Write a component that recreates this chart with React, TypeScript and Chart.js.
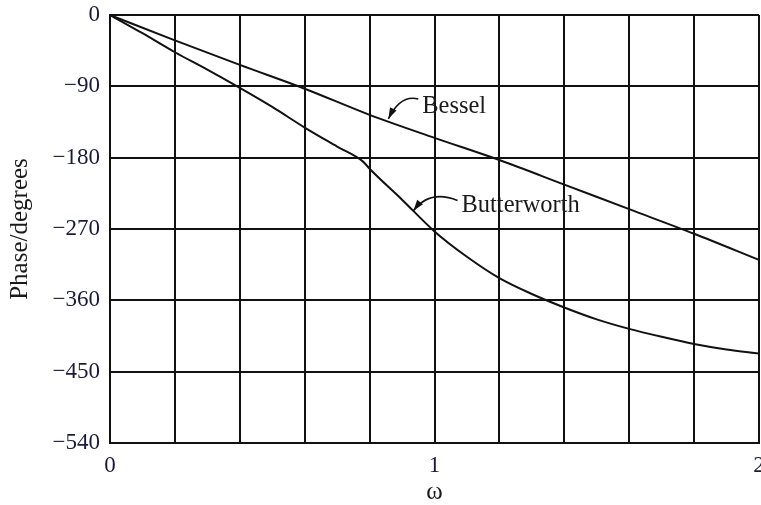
import { useEffect, useRef } from 'react';
import { Chart, registerables } from 'chart.js';

Chart.register(...registerables);

// ---- data ----
const besselX = [0, 0.2, 0.4, 0.6, 0.8, 1.0, 1.2, 1.4, 1.6, 1.8, 2.0];
const besselY = [0, -32, -63, -93, -126, -155, -183, -214, -245, -276, -309];

const butterX = [0, 0.1, 0.2, 0.3, 0.4, 0.5, 0.6, 0.7, 0.78, 0.8, 0.9, 1.0, 1.1, 1.2, 1.3, 1.4, 1.5, 1.6, 1.7, 1.8, 1.9, 2.0];
const butterY = [0, -23, -47, -69, -92, -116, -142, -166, -185, -194, -233, -273, -305, -332, -352, -369, -384, -396, -406, -415, -422, -427];

const xTickValues = [0, 1, 2];
const xTickLabels = ['0', '1', '2'];
const yTickValues = [0, -90, -180, -270, -360, -450, -540];
const yTickLabels = ['0', '\u221290', '\u2212180', '\u2212270', '\u2212360', '\u2212450', '\u2212540'];

const seriesNames = ['Bessel', 'Butterworth'];

// label anchors (data coordinates)
const labelAnchors = [
  { text: 'Bessel', x: 0.962, y: -123.6, tail: [0.950, -106], ctrl: [0.895, -100], tip: [0.858, -131] },
  { text: 'Butterworth', x: 1.083, y: -248.6, tail: [1.071, -234], ctrl: [0.985, -220], tip: [0.935, -247] },
];

const SERIF = "'Liberation Serif', 'Times New Roman', serif";

const labelPlugin = {
  id: 'curveLabels',
  afterDatasetsDraw(chart: any) {
    const { ctx, scales } = chart;
    const xs = scales.x;
    const ys = scales.y;
    ctx.save();
    for (const a of labelAnchors) {
      const tx = xs.getPixelForValue(a.x);
      const ty = ys.getPixelForValue(a.y);
      ctx.font = `24.5px ${SERIF}`;
      ctx.fillStyle = '#1a1a1a';
      ctx.textAlign = 'left';
      ctx.textBaseline = 'alphabetic';
      ctx.fillText(a.text, tx, ty);

      const p0 = [xs.getPixelForValue(a.tail[0]), ys.getPixelForValue(a.tail[1])];
      const pc = [xs.getPixelForValue(a.ctrl[0]), ys.getPixelForValue(a.ctrl[1])];
      const p1 = [xs.getPixelForValue(a.tip[0]), ys.getPixelForValue(a.tip[1])];
      ctx.strokeStyle = '#111';
      ctx.lineWidth = 1.6;
      ctx.beginPath();
      ctx.moveTo(p0[0], p0[1]);
      ctx.quadraticCurveTo(pc[0], pc[1], p1[0], p1[1]);
      ctx.stroke();
      let dx = p1[0] - pc[0];
      let dy = p1[1] - pc[1];
      const len = Math.hypot(dx, dy) || 1;
      dx /= len;
      dy /= len;
      const L = 11;
      const W = 3.6;
      const bx = p1[0] - dx * L;
      const by = p1[1] - dy * L;
      ctx.fillStyle = '#111';
      ctx.beginPath();
      ctx.moveTo(p1[0], p1[1]);
      ctx.lineTo(bx - dy * W, by + dx * W);
      ctx.lineTo(bx + dy * W, by - dx * W);
      ctx.closePath();
      ctx.fill();
    }
    ctx.restore();
  },
};

export default function App() {
  const ref = useRef<HTMLCanvasElement | null>(null);

  useEffect(() => {
    if (!ref.current) return;
    const chart = new Chart(ref.current, {
      type: 'line',
      data: {
        datasets: [
          {
            label: seriesNames[0],
            data: besselX.map((x, i) => ({ x, y: besselY[i] })),
            borderColor: '#111',
            borderWidth: 2,
            pointRadius: 0,
            cubicInterpolationMode: 'monotone',
            fill: false,
          },
          {
            label: seriesNames[1],
            data: butterX.map((x, i) => ({ x, y: butterY[i] })),
            borderColor: '#111',
            borderWidth: 2,
            pointRadius: 0,
            cubicInterpolationMode: 'monotone',
            fill: false,
          },
        ],
      },
      options: {
        animation: false,
        responsive: false,
        layout: { padding: { left: 0, top: 15, right: 2, bottom: 0 } },
        plugins: {
          legend: { display: false },
          tooltip: { enabled: false },
        },
        scales: {
          x: {
            type: 'linear',
            min: 0,
            max: 2,
            ticks: {
              stepSize: 0.2,
              autoSkip: false,
              maxRotation: 0,
              padding: 9,
              color: '#1a1a3a',
              font: { family: SERIF, size: 23 },
              callback: (value: any) => {
                const v = Math.round(Number(value) * 10) / 10;
                const idx = xTickValues.indexOf(v);
                return idx >= 0 ? xTickLabels[idx] : '';
              },
            },
            grid: { color: '#111', lineWidth: 2, drawTicks: false },
            border: { color: '#111', width: 2 },
            title: {
              display: true,
              text: '\u03c9',
              color: '#1a1a1a',
              font: { family: SERIF, size: 25, lineHeight: 1 },
              padding: { top: 0, bottom: 0 },
            },
            afterFit: (scale: any) => {
              scale.height = 62;
              scale.paddingRight = 0;
              scale.paddingLeft = 0;
            },
          },
          y: {
            type: 'linear',
            min: -540,
            max: 0,
            ticks: {
              stepSize: 90,
              padding: 10,
              color: '#1a1a3a',
              font: { family: SERIF, size: 23 },
              callback: (value: any) => {
                const idx = yTickValues.indexOf(Math.round(Number(value)));
                return idx >= 0 ? yTickLabels[idx] : '';
              },
            },
            grid: { color: '#111', lineWidth: 2, drawTicks: false },
            border: { color: '#111', width: 2 },
            title: {
              display: true,
              text: 'Phase/degrees',
              color: '#1a1a1a',
              font: { family: SERIF, size: 25, lineHeight: 1 },
              padding: { top: 8, bottom: 0 },
            },
            afterFit: (scale: any) => {
              scale.width = 110;
              scale.paddingTop = 0;
              scale.paddingBottom = 0;
            },
          },
        },
      },
      plugins: [labelPlugin],
    } as any);
    return () => chart.destroy();
  }, []);

  return (
    <div style={{ position: 'fixed', left: 0, top: 0, width: 761, height: 505, background: '#fff' }}>
      <canvas ref={ref} width={761} height={505} style={{ display: 'block' }} />
    </div>
  );
}
